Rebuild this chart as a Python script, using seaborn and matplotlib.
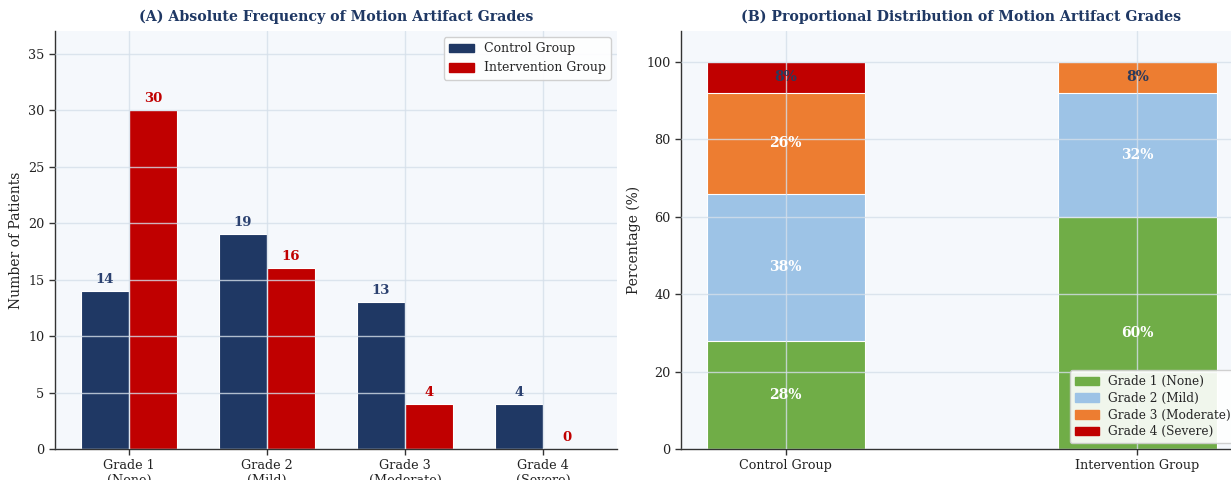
import matplotlib
matplotlib.use("Agg")
import matplotlib.pyplot as plt
from matplotlib.patches import Patch
import numpy as np
import pandas as pd
import seaborn as sns

# ---- data ----
grades = ["Grade 1\n(None)", "Grade 2\n(Mild)", "Grade 3\n(Moderate)", "Grade 4\n(Severe)"]
grade_names = ["Grade 1 (None)", "Grade 2 (Mild)", "Grade 3 (Moderate)", "Grade 4 (Severe)"]
groups = ["Control Group", "Intervention Group"]
control_counts = [14, 19, 13, 4]
intervention_counts = [30, 16, 4, 0]
control_pct = [28, 38, 26, 8]
intervention_pct = [60, 32, 8, 0]

# ---- style ----
sns.set_theme(style="white")
plt.rcParams["font.family"] = ["DejaVu Serif"]

NAVY = "#1F3864"
RED = "#C00000"
grade_colors = ["#70AD47", "#9DC3E6", "#ED7D31", "#C00000"]
BG = "#F5F8FC"
GRID = "#D5DFEA"

fig = plt.figure(figsize=(12.31, 4.8), dpi=100)
axA = fig.add_axes([55 / 1231, 31 / 480, 562 / 1231, 418 / 480])
axB = fig.add_axes([681 / 1231, 31 / 480, 561 / 1231, 418 / 480])

for ax in (axA, axB):
    ax.set_facecolor(BG)
    for s in ("top", "right"):
        ax.spines[s].set_visible(False)
    for s in ("left", "bottom"):
        ax.spines[s].set_color("#333333")
        ax.spines[s].set_linewidth(1.0)
    ax.tick_params(axis="both", which="major", length=4, width=1, color="#333333",
                   labelsize=9.2, labelcolor="#222222", bottom=True, left=True)

# ---- panel A: grouped counts ----
dfA = pd.DataFrame({
    "Grade": grades * 2,
    "Count": control_counts + intervention_counts,
    "Group": [groups[0]] * 4 + [groups[1]] * 4,
})
sns.barplot(data=dfA, x="Grade", y="Count", hue="Group", order=grades, hue_order=groups,
            palette=[NAVY, RED], width=0.7, edgecolor="white", linewidth=0.8,
            saturation=1, errorbar=None, legend=False, ax=axA)

for cont, lab_color in zip(axA.containers, ["#2B4170", RED]):
    for bar in cont:
        h = bar.get_height()
        axA.text(bar.get_x() + bar.get_width() / 2, h + 0.45, f"{int(round(h))}",
                 ha="center", va="bottom", fontsize=9.5, fontweight="bold", color=lab_color)

axA.set_xlim(-0.535, 3.535)
axA.set_ylim(0, 37)
axA.set_yticks(range(0, 36, 5))
axA.set_xlabel("")
axA.set_ylabel("Number of Patients", fontsize=10, color="#222222")
axA.set_title("(A) Absolute Frequency of Motion Artifact Grades", fontsize=10.2,
              fontweight="bold", color=NAVY, pad=7)
axA.grid(True, color=GRID, linewidth=1.0, alpha=0.8)
axA.set_axisbelow(False)
axA.legend(handles=[Patch(color=NAVY, label=groups[0]), Patch(color=RED, label=groups[1])],
           loc="upper right", fontsize=9, frameon=True, facecolor="white",
           edgecolor="#CCCCCC", framealpha=0.9, handlelength=2.0)

# ---- panel B: stacked proportions ----
pct = np.array([control_pct, intervention_pct], dtype=float)  # groups x grades
cum = np.cumsum(pct, axis=1)
for k in range(len(grade_names) - 1, -1, -1):
    dfB = pd.DataFrame({"Group": groups, "Top": cum[:, k]})
    sns.barplot(data=dfB, x="Group", y="Top", order=groups, color=grade_colors[k],
                width=0.45, edgecolor="white", linewidth=0.8, saturation=1,
                errorbar=None, ax=axB)

for gi in range(len(groups)):
    for k in range(len(grade_names)):
        v = pct[gi, k]
        if v <= 0:
            continue
        mid = cum[gi, k] - v / 2
        color = "white" if v >= 10 else "#2B3A5C"
        axB.text(gi, mid, f"{int(round(v))}%", ha="center", va="center",
                 fontsize=10, fontweight="bold", color=color)

axB.set_xlim(-0.2975, 1.2975)
axB.set_ylim(0, 108)
axB.set_yticks(range(0, 101, 20))
axB.set_xlabel("")
axB.set_ylabel("Percentage (%)", fontsize=10, color="#222222")
axB.set_title("(B) Proportional Distribution of Motion Artifact Grades", fontsize=10.2,
              fontweight="bold", color=NAVY, pad=7)
axB.grid(True, color=GRID, linewidth=1.0, alpha=0.8)
axB.set_axisbelow(False)
axB.legend(handles=[Patch(color=c, label=n) for c, n in zip(grade_colors, grade_names)],
           loc="lower right", fontsize=8.7, frameon=True, facecolor="white",
           edgecolor="#CCCCCC", framealpha=0.9, handlelength=2.0, labelspacing=0.3)

fig.savefig("out.png", dpi=100)
